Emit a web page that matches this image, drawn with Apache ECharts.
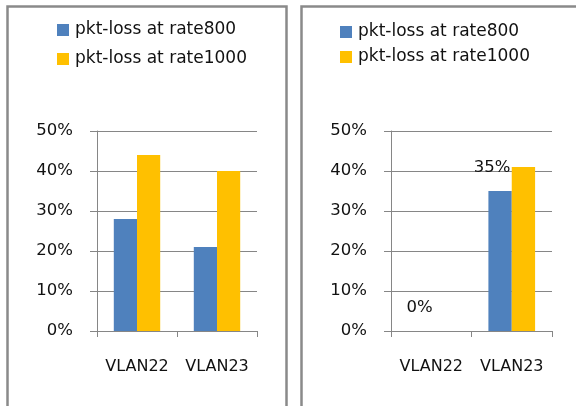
<!DOCTYPE html>
<html>
<head>
<meta charset="utf-8">
<script src="https://cdn.jsdelivr.net/npm/echarts@6/dist/echarts.min.js"></script>
<style>
html,body{margin:0;padding:0;background:#fff;}
#c{width:576px;height:406px;}
</style>
</head>
<body>
<div id="c"></div>
<script>
var categories = ['VLAN22', 'VLAN23'];
var seriesNames = ['pkt-loss at rate800', 'pkt-loss at rate1000'];
var leftRate800 = [28, 21];
var leftRate1000 = [44, 40];
var rightRate800 = [0, 35];
var rightRate1000 = [0, 41];
var yTicks = [0, 10, 20, 30, 40, 50];

var BLUE = '#4F81BD', GOLD = '#FFC000', GRAY = '#868686', TXT = '#111111';
var FONT = 'DejaVu Sans';

var chart = echarts.init(document.getElementById('c'), null, {renderer: 'canvas'});

function xAxis(i) {
  return {
    type: 'category', gridIndex: i, data: categories,
    axisLine: {lineStyle: {color: GRAY, width: 1}},
    axisTick: {show: true, length: 6, lineStyle: {color: GRAY}},
    axisLabel: {color: TXT, fontFamily: FONT, fontSize: 16, margin: 28,
                interval: 0, hideOverlap: false}
  };
}
function yAxis(i) {
  return {
    type: 'value', gridIndex: i, min: yTicks[0], max: yTicks[yTicks.length - 1], interval: 10,
    axisLine: {show: true, lineStyle: {color: GRAY, width: 1}},
    axisTick: {show: true, length: 7, lineStyle: {color: GRAY}},
    splitLine: {lineStyle: {color: GRAY, width: 1}},
    axisLabel: {color: TXT, fontFamily: FONT, fontSize: 16.5, margin: 24, formatter: '{value}%'}
  };
}
function legend(left, top, gap) {
  return {
    orient: 'vertical', left: left, top: top, itemGap: gap, padding: 0,
    itemWidth: 12, itemHeight: 12, icon: 'rect', selectedMode: false,
    data: seriesNames,
    textStyle: {color: TXT, fontFamily: FONT, fontSize: 17, lineHeight: 18, padding: [0, 0, 0, 1]}
  };
}
function bar(name, data, i, color, extra) {
  var s = {
    type: 'bar', name: name, xAxisIndex: i, yAxisIndex: i, data: data,
    barGap: '0%', barCategoryGap: '42%',
    itemStyle: {color: color}
  };
  if (extra) for (var k in extra) s[k] = extra[k];
  return s;
}

var rightBlueData = rightRate800.map(function (v) {
  var item = {value: v};
  if (v > 0) item.label = {offset: [-8, 0]};
  return item;
});

chart.setOption({
  animation: false,
  color: [BLUE, GOLD],
  graphic: [
    {type: 'rect', shape: {x: 7.5, y: 6.5, width: 279, height: 520},
     style: {fill: null, stroke: '#8a8a8a', lineWidth: 2.5}},
    {type: 'rect', shape: {x: 301.5, y: 6.5, width: 400, height: 520},
     style: {fill: null, stroke: '#8a8a8a', lineWidth: 2.5}}
  ],
  legend: [legend(57, 21, 11), legend(340, 23, 7)],
  grid: [
    {left: 97, top: 131, width: 160, height: 200},
    {left: 391, top: 131, width: 161, height: 200}
  ],
  xAxis: [xAxis(0), xAxis(1)],
  yAxis: [yAxis(0), yAxis(1)],
  series: [
    bar(seriesNames[0], leftRate800, 0, BLUE),
    bar(seriesNames[1], leftRate1000, 0, GOLD),
    bar(seriesNames[0], rightBlueData, 1, BLUE, {
      label: {show: true, position: 'top', distance: 15, formatter: '{c}%',
              color: TXT, fontFamily: FONT, fontSize: 16.5}
    }),
    bar(seriesNames[1], rightRate1000, 1, GOLD)
  ]
});
</script>
</body>
</html>
